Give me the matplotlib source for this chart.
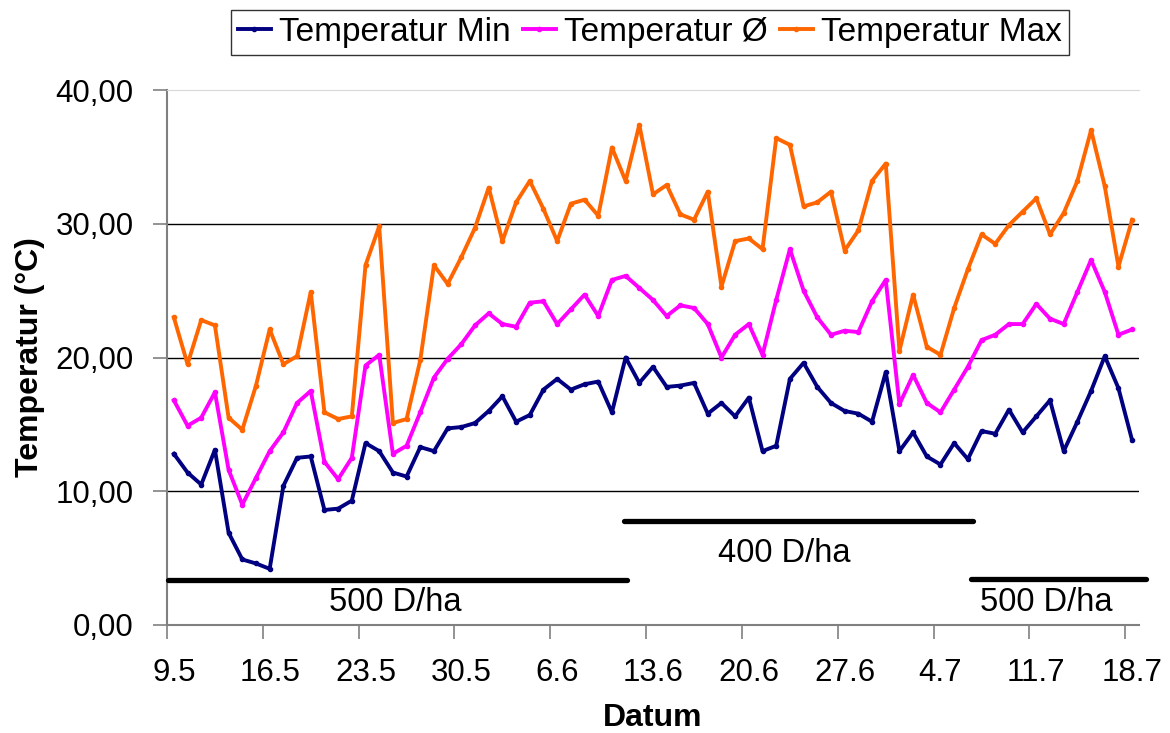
import matplotlib
matplotlib.use("Agg")
import matplotlib.pyplot as plt
import numpy as np

plt.rcParams['font.family'] = ['Liberation Sans', 'DejaVu Sans']

# daily values 9.5. - 18.7.
temp_min = [12.8, 11.4, 10.5, 13.1, 6.9, 4.9, 4.6, 4.2, 10.4, 12.5,
             12.6, 8.6, 8.7, 9.3, 13.6, 13.0, 11.4, 11.1, 13.3, 13.0,
             14.7, 14.8, 15.1, 16.0, 17.1, 15.2, 15.7, 17.6, 18.4, 17.6,
             18.0, 18.2, 15.9, 20.0, 18.1, 19.3, 17.8, 17.9, 18.1, 15.8,
             16.6, 15.6, 17.0, 13.0, 13.4, 18.4, 19.6, 17.8, 16.6, 16.0,
             15.8, 15.2, 18.9, 13.0, 14.4, 12.6, 12.0, 13.6, 12.4, 14.5,
             14.3, 16.1, 14.4, 15.6, 16.8, 13.0, 15.2, 17.5, 20.1, 17.7,
             13.8]
temp_avg = [16.8, 14.9, 15.5, 17.4, 11.6, 9.0, 11.0, 13.0, 14.4, 16.6,
            17.5, 12.2, 10.9, 12.5, 19.4, 20.2, 12.8, 13.4, 15.9, 18.5,
            19.9, 21.0, 22.4, 23.3, 22.5, 22.3, 24.1, 24.2, 22.5, 23.6,
            24.7, 23.1, 25.8, 26.1, 25.2, 24.3, 23.1, 23.9, 23.7, 22.5,
            20.0, 21.7, 22.5, 20.2, 24.3, 28.1, 25.0, 23.0, 21.7, 22.0,
            21.9, 24.2, 25.8, 16.5, 18.7, 16.6, 15.9, 17.6, 19.3, 21.3,
            21.7, 22.5, 22.5, 24.0, 22.9, 22.5, 24.9, 27.3, 24.9, 21.7,
            22.1]
temp_max = [23.0, 19.5, 22.8, 22.4, 15.5, 14.6, 17.9, 22.1, 19.5, 20.1,
            24.9, 15.9, 15.4, 15.6, 26.9, 29.8, 15.1, 15.4, 19.8, 26.9,
            25.5, 27.5, 29.7, 32.7, 28.7, 31.6, 33.2, 31.1, 28.7, 31.5,
            31.8, 30.6, 35.7, 33.2, 37.4, 32.2, 32.9, 30.7, 30.3, 32.4,
            25.3, 28.7, 28.9, 28.1, 36.4, 35.9, 31.3, 31.6, 32.4, 28.0,
            29.5, 33.2, 34.5, 20.5, 24.7, 20.8, 20.2, 23.7, 26.6, 29.2,
            28.5, 29.9, 30.9, 31.9, 29.2, 30.8, 33.2, 37.0, 32.8, 26.8,
            30.3]

tick_labels = ['9.5', '16.5', '23.5', '30.5', '6.6', '13.6', '20.6',
               '27.6', '4.7', '11.7', '18.7']

# density periods (x in day index, y in °C)
period_labels = ['500 D/ha', '400 D/ha', '500 D/ha']
period_start = [-0.4, 32.9, 58.25]
period_end = [33.1, 58.4, 71.0]
period_level = [3.4, 7.75, 3.45]
label_x = [16.2, 44.6, 63.7]
label_y = [1.05, 4.7, 1.05]

days = np.arange(len(temp_max))

fig = plt.figure(figsize=(11.7, 7.33), dpi=100)
ax = fig.add_axes([167 / 1170, 1 - 625 / 733, 972 / 1170, 535 / 733])

lw = 2.8
ax.plot(days, temp_min, color='#000080', lw=lw, marker='o', ms=3, label='Temperatur Min', zorder=3)
ax.plot(days, temp_avg, color='#FF00FF', lw=lw, marker='o', ms=3, label='Temperatur Ø', zorder=3)
ax.plot(days, temp_max, color='#FF6600', lw=lw, marker='o', ms=3, label='Temperatur Max', zorder=3)

for s, e, lv, txt, tx, ty in zip(period_start, period_end, period_level, period_labels, label_x, label_y):
    ax.plot([s, e], [lv, lv], color='black', lw=3.8, solid_capstyle='round', clip_on=False, zorder=4)
    ax.text(tx, ty, txt, fontsize=23.5, ha='center', va='baseline')

ax.set_xlim(-0.5, len(days) - 0.5)
ax.set_ylim(0, 40)

# y axis
ax.set_yticks([0, 10, 20, 30, 40])
ax.set_yticklabels(['0,00', '10,00', '20,00', '30,00', '40,00'], fontsize=22.5)
ax.tick_params(axis='y', length=10, width=1.2, color='#808080', pad=14)
for v in [10, 20, 30]:
    ax.axhline(v, color='black', lw=1.0, zorder=1)

# x axis: labels under the day, tick marks between the weeks
ax.set_xticks(days[::7])
ax.set_xticklabels(tick_labels, fontsize=22.5)
ax.set_xticks(days[::7] - 0.5, minor=True)
ax.tick_params(axis='x', which='major', length=0, pad=24)
ax.tick_params(axis='x', which='minor', length=10, width=1.2, color='#808080')

ax.spines['right'].set_visible(False)
ax.spines['top'].set_color('#d8d8d8')
ax.spines['left'].set_color('#808080')
ax.spines['bottom'].set_color('#808080')
ax.spines['left'].set_linewidth(1.5)
ax.spines['bottom'].set_linewidth(1.5)

fig.text(30 / 1170, 1 - 357 / 733, 'Temperatur (°C)', rotation=90, fontsize=23,
         fontweight='bold', ha='center', va='center')
fig.text(653 / 1170, 1 - 718 / 733, 'Datum', fontsize=23, fontweight='bold',
         ha='center', va='center')

leg = fig.legend(loc='center', bbox_to_anchor=(650 / 1170, 1 - 32.5 / 733), ncol=3,
                 fontsize=24, frameon=True, fancybox=False, edgecolor='black',
                 handlelength=1.0, handletextpad=0.25, columnspacing=0.35,
                 borderpad=0.2, borderaxespad=0, numpoints=1)
leg.get_frame().set_linewidth(1.0)

fig.savefig('out.png', dpi=100)
